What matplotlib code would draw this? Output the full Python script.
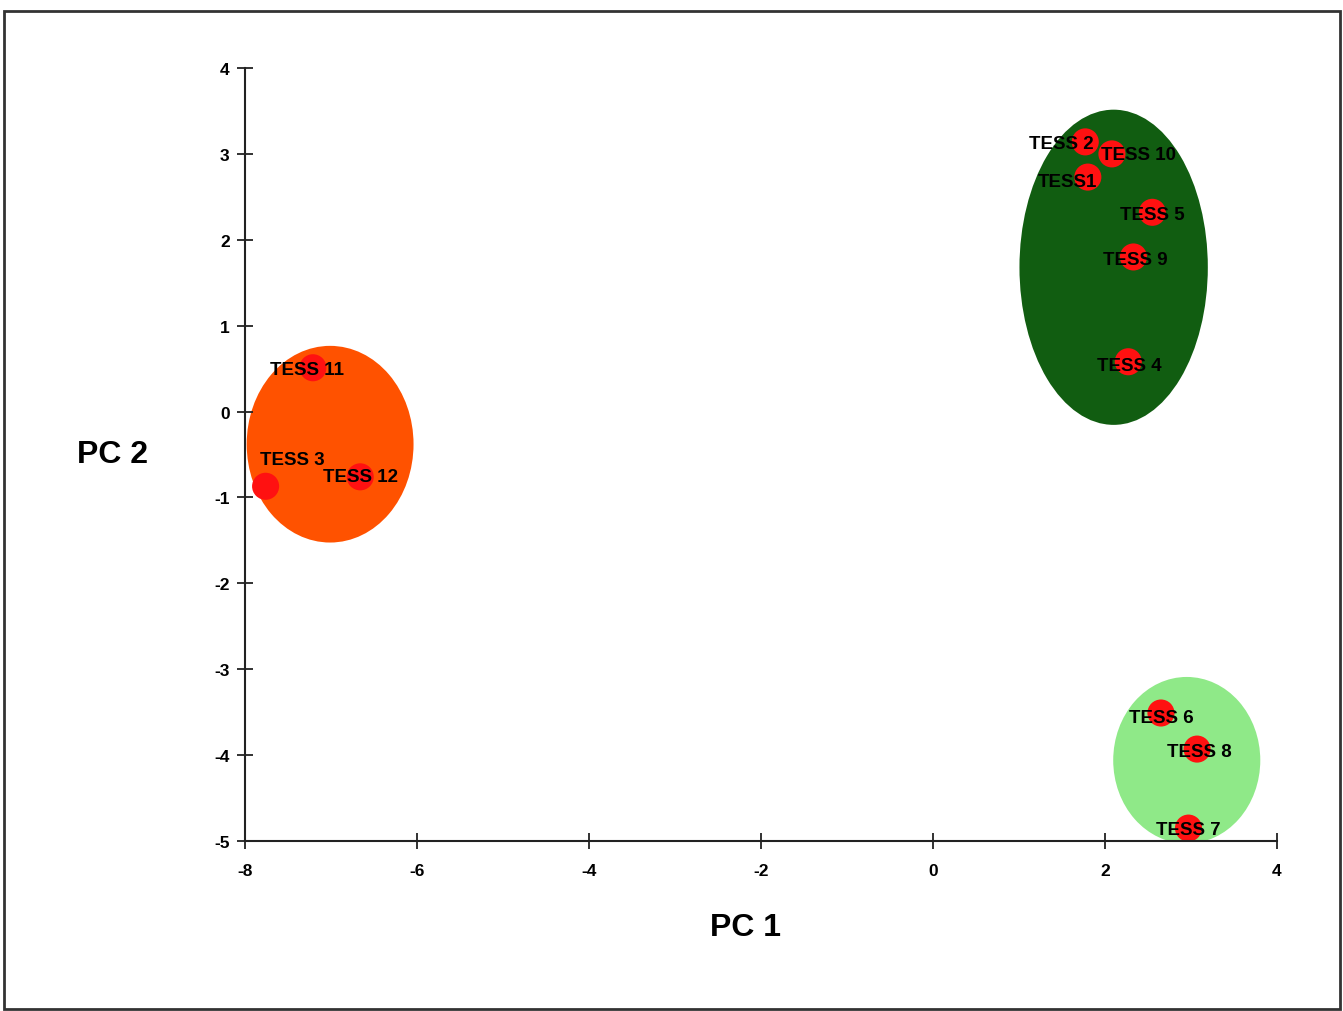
import matplotlib.pyplot as plt
from matplotlib.patches import Ellipse, Rectangle

plt.rcParams["font.family"] = ["Liberation Sans", "DejaVu Sans"]
plt.rcParams["axes.unicode_minus"] = False

# sample scores (PC1, PC2)
names = ["TESS 2", "TESS 10", "TESS1", "TESS 5", "TESS 9", "TESS 4",
         "TESS 11", "TESS 3", "TESS 12", "TESS 6", "TESS 8", "TESS 7"]
pc1 = [1.77, 2.08, 1.80, 2.55, 2.33, 2.27, -7.21, -7.76, -6.66, 2.65, 3.07, 2.97]
pc2 = [3.14, 3.00, 2.73, 2.32, 1.80, 0.58, 0.51, -0.87, -0.76, -3.51, -3.93, -4.85]

# cluster ellipses
ell_x = [2.10, -7.01, 2.95]
ell_y = [1.68, -0.38, -4.06]
ell_w = [2.19, 1.94, 1.71]
ell_h = [3.67, 2.29, 1.94]
ell_colors = ["#115d11", "#ff5200", "#8fe988"]

xticks = [-8, -6, -4, -2, 0, 2, 4]
yticks = [-5, -4, -3, -2, -1, 0, 1, 2, 3, 4]

# label offsets from the point, in points
label_off = [(-17, -1), (19, -0.5), (-15, -3.5), (0, -1.5), (1, -1.5), (1, -3),
             (-4, -1.5), (19, 19), (0, 0), (0, -3), (2, -2), (0, -1)]

fig = plt.figure(figsize=(13.43, 10.12), dpi=100)
ax = fig.add_axes([0.1824, 0.168, 0.7685, 0.7638])

for cx, cy, w, h, c in zip(ell_x, ell_y, ell_w, ell_h, ell_colors):
    ax.add_patch(Ellipse((cx, cy), w, h, facecolor=c, edgecolor="none", zorder=1))

ax.scatter(pc1, pc2, s=380, color="#ff1111", edgecolors="none", zorder=2, clip_on=False)
for n, x, y, off in zip(names, pc1, pc2, label_off):
    ax.annotate(n, (x, y), xytext=off, textcoords="offset points",
                ha="center", va="center", fontsize=13.5, fontweight="bold", zorder=3)

ax.set_xlim(-8, 4)
ax.set_ylim(-5, 4)
ax.set_xticks(xticks)
ax.set_yticks(yticks)
for s in ["top", "right"]:
    ax.spines[s].set_visible(False)
for s in ["left", "bottom"]:
    ax.spines[s].set_linewidth(1.5)
    ax.spines[s].set_color("#222222")
ax.tick_params(direction="inout", length=12, width=1.3, color="#222222",
               labelsize=12.5)
ax.tick_params(axis="x", pad=10)
ax.tick_params(axis="y", pad=5)
for lbl in ax.get_xticklabels() + ax.get_yticklabels():
    lbl.set_fontweight("bold")

fig.text(745 / 1343, 1 - 928 / 1012, "PC 1", fontsize=23, fontweight="bold",
         ha="center", va="center")
fig.text(112 / 1343, 1 - 455 / 1012, "PC 2", fontsize=23, fontweight="bold",
         ha="center", va="center")

fig.patches.append(Rectangle((4 / 1343, 1 - 1010 / 1012), 1336 / 1343, 998 / 1012,
                             transform=fig.transFigure, fill=False,
                             edgecolor="#333333", linewidth=2))

fig.savefig("out.png", dpi=100)
